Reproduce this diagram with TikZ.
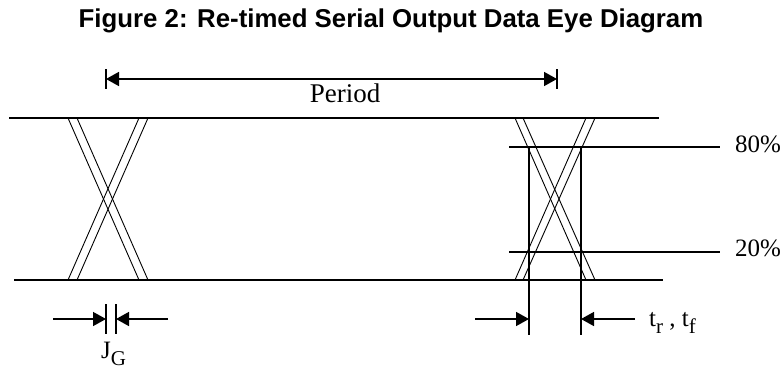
\documentclass[tikz,border=0pt]{standalone}
\usepackage{fontspec}
\setmainfont{Liberation Serif}
\setsansfont{Liberation Sans}
\usetikzlibrary{arrows.meta}
\newcommand\lowsub[1]{\raisebox{-0.3em}{\fontsize{21}{21}\selectfont #1}}
\begin{document}
\begin{tikzpicture}[x=1pt,y=-1pt,
  thickline/.style={line width=1.5pt},
  edge/.style={line width=0.9pt},
  tipa/.tip={Triangle[length=13pt,width=14pt]},
  dim/.style={line width=1.5pt,-tipa},
  lbl/.style={font=\fontsize{25}{28}\selectfont, inner sep=0pt}]
\useasboundingbox (0,0) rectangle (783,369);
% title
\node[font=\sffamily\bfseries\fontsize{25.8}{30}\selectfont, anchor=base, inner sep=0pt] (title) at (391,28) {Figure 2: Re-timed Serial Output Data Eye Diagram};
% period
\coordinate (pL) at (106,79);
\coordinate (pR) at (557,79);
\coordinate (pLt) at (106,69); \coordinate (pLb) at (106,89);
\coordinate (pRt) at (557,69); \coordinate (pRb) at (557,89);
\draw[thickline] (pLt) -- (pLb);
\draw[thickline] (pRt) -- (pRb);
\draw[thickline,tipa-tipa] (pL) -- (pR);
\node[lbl, anchor=base, font=\fontsize{27}{28}\selectfont] (period) at (345,102) {Period};
% rails
\coordinate (topL) at (9,118); \coordinate (topR) at (659,118);
\coordinate (botL) at (14,280); \coordinate (botR) at (663,280);
\draw[thickline] (topL) -- (topR);
\draw[thickline] (botL) -- (botR);
% left crossing
\foreach \a/\b in {68/139, 77/148, 139/68, 148/77}
  \draw[edge] (\a,118) -- (\b,280);
% right crossing
\foreach \a/\b in {515/586, 523/595, 586/515, 595/523}
  \draw[edge] (\a,118) -- (\b,280);
% 80% and 20%
\coordinate (h8L) at (509,147); \coordinate (h8R) at (720,147);
\coordinate (h2L) at (509,252); \coordinate (h2R) at (720,252);
\draw[thickline] (h8L) -- (h8R);
\draw[thickline] (h2L) -- (h2R);
\node[lbl, anchor=base west] (p80) at (735,152) {80\%};
\node[lbl, anchor=base west] (p20) at (735,256) {20\%};
% rise/fall verticals
\coordinate (v1t) at (529,147); \coordinate (v1b) at (529,335);
\coordinate (v2t) at (581,147); \coordinate (v2b) at (581,335);
\draw[thickline] (v1t) -- (v1b);
\draw[thickline] (v2t) -- (v2b);
\coordinate (t1s) at (475,319); \coordinate (t1e) at (529,319);
\coordinate (t2s) at (635,319); \coordinate (t2e) at (581,319);
\draw[dim] (t1s) -- (t1e);
\draw[dim] (t2s) -- (t2e);
\node[lbl, anchor=base west] (trtf) at (649,326) {t\lowsub{r} , t\lowsub{f}};
% jitter
\coordinate (j1t) at (106,304); \coordinate (j1b) at (106,334);
\coordinate (j2t) at (116,304); \coordinate (j2b) at (116,334);
\draw[thickline] (j1t) -- (j1b);
\draw[thickline] (j2t) -- (j2b);
\coordinate (j1s) at (53,319); \coordinate (j1e) at (106,319);
\coordinate (j2s) at (168,319); \coordinate (j2e) at (116,319);
\draw[dim] (j1s) -- (j1e);
\draw[dim] (j2s) -- (j2e);
\node[lbl, anchor=base west] (jg) at (101,358) {J\lowsub{G}};
\end{tikzpicture}
\end{document}
